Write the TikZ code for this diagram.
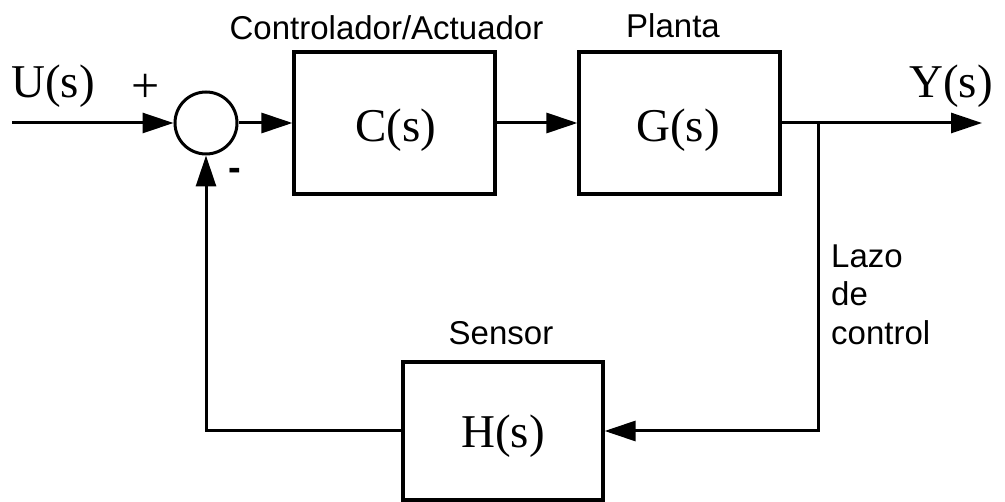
\documentclass[tikz,border=0pt]{standalone}
\usepackage{fontspec}
\setmainfont{Liberation Serif}
\setsansfont{Liberation Sans}
\usetikzlibrary{arrows.meta,calc}
\tikzset{
  blk/.style={draw, line width=3.2pt, inner sep=0pt},
  sumnode/.style={draw, circle, line width=3pt, inner sep=0pt, minimum size=62pt},
  conn/.style={line width=3pt},
  arr/.style={conn, -{Triangle[length=31pt,width=20pt]}},
  tf/.style={font=\fontsize{47}{56}\selectfont, inner sep=0pt, anchor=base},
  lbl/.style={font=\sffamily\fontsize{33}{40}\selectfont, inner sep=0pt, anchor=base},
}
\begin{document}
\begin{tikzpicture}[x=1pt,y=-1pt]
\fill[white] (0,0) rectangle (1005,502);
\useasboundingbox (0,0) rectangle (1005,502);
% blocks
\node[sumnode] (sum) at (206,123) {};
\node[blk, minimum width=201pt, minimum height=142pt] (C) at (394.5,123) {};
\node[blk, minimum width=201pt, minimum height=142pt] (G) at (679.5,123) {};
\node[blk, minimum width=200pt, minimum height=138pt] (H) at (503,431) {};
% transfer function texts
\node[tf] (Ct) at (396,142) {C(s)};
\node[tf] (Gt) at (678,142) {G(s)};
\node[tf] (Ht) at (503,448) {H(s)};
\node[tf] (U) at (53,98) {U(s)};
\node[tf] (Y) at (951,98) {Y(s)};
\node[font=\fontsize{50}{56}\selectfont, inner sep=0pt] (plus) at (146,88) {+};
\node[font=\sffamily\bfseries\fontsize{38}{40}\selectfont, inner sep=0pt] (minus) at (235,174) {-};
% labels
\node[lbl] (Clab) at (386.5,40) {Controlador/Actuador};
\node[lbl] (Glab) at (673,38) {Planta};
\node[lbl] (Hlab) at (501,345) {Sensor};
\node[lbl, anchor=base west] (l1) at (831,268) {Lazo};
\node[lbl, anchor=base west] (l2) at (831,306) {de};
\node[lbl, anchor=base west] (l3) at (831,345) {control};
% coordinates
\coordinate (in) at (12,123);
\coordinate (out) at (982,123);
\coordinate (br) at (818,123);
% connectors
\draw[arr] (in) -- (sum.west);
\draw[arr] (sum.east) -- (C.west);
\draw[arr] (C.east) -- (G.west);
\draw[arr] (G.east) -- (out);
\draw[arr] (br) |- (H.east);
\draw[arr] (H.west) -| (sum.south);
\end{tikzpicture}
\end{document}
